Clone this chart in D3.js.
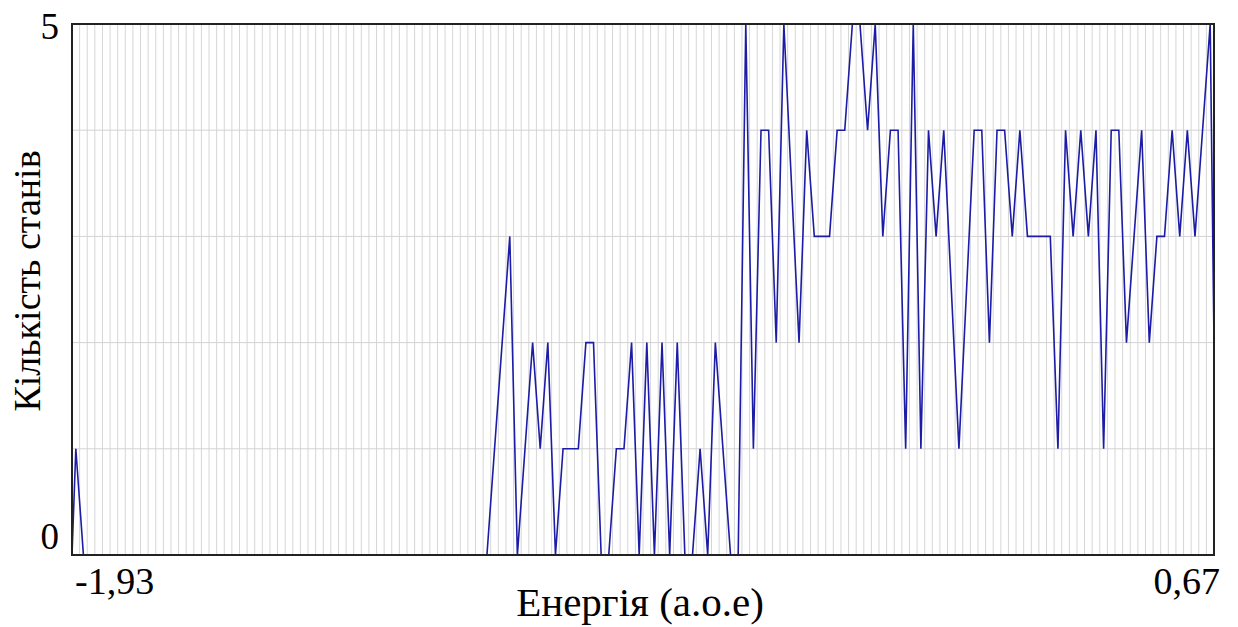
<!DOCTYPE html>
<html>
<head>
<meta charset="utf-8">
<script src="https://cdn.jsdelivr.net/npm/d3@7"></script>
<style>
  body { margin: 0; background: #fff; }
  text { font-family: "Liberation Serif", "Times New Roman", serif; fill: #000; }
</style>
</head>
<body>
<svg id="chart" width="1238" height="627"></svg>
<script>
// vertices of the curve: energy (a.u.) and number of states
var energy = [-1.93, -1.9213, -1.904, -0.9853, -0.9333, -0.916, -0.8813, -0.864, -0.8467, -0.8293,
  -0.812, -0.7773, -0.76, -0.7427, -0.7253, -0.708, -0.6907, -0.6733, -0.656, -0.6387,
  -0.6213, -0.604, -0.5867, -0.5693, -0.552, -0.5347, -0.5173, -0.5, -0.4827, -0.4653,
  -0.4307, -0.4133, -0.396, -0.3787, -0.3613, -0.344, -0.3267, -0.3093, -0.2747, -0.2573,
  -0.24, -0.2053, -0.188, -0.1707, -0.1533, -0.136, -0.1187, -0.1013, -0.084, -0.0667,
  -0.0493, -0.032, -0.0147, 0.0027, 0.02, 0.0373, 0.0547, 0.0893, 0.124, 0.1413,
  0.1587, 0.176, 0.1933, 0.2107, 0.228, 0.2453, 0.2973, 0.3147, 0.332, 0.3493,
  0.3667, 0.384, 0.4013, 0.4187, 0.436, 0.4533, 0.4707, 0.5053, 0.5227, 0.54,
  0.5573, 0.5747, 0.592, 0.6093, 0.6267, 0.6613, 0.67]
var states = [0, 1, 0, 0, 3, 0, 2, 1, 2, 0,
  1, 1, 2, 2, 0, 0, 1, 1, 2, 0,
  2, 0, 2, 0, 2, 0, 0, 1, 0, 2,
  0, 0, 5, 1, 4, 4, 2, 5, 2, 4,
  3, 3, 4, 4, 5, 5, 4, 5, 3, 4,
  4, 1, 5, 1, 4, 3, 4, 1, 4, 4,
  2, 4, 4, 3, 4, 3, 3, 1, 4, 3,
  4, 3, 4, 1, 4, 4, 2, 4, 2, 3,
  3, 4, 3, 4, 3, 5, 2]

var xDomain = [-1.93, 0.67]
var yTicks = [0, 5]
var xTickLabels = ["-1,93", "0,67"]
var binCount = 150   // vertical grid: one line per energy bin

var svg = d3.select("#chart")
var m = {left: 72, right: 1214, top: 24, bottom: 555}

var x = d3.scaleLinear().domain(xDomain).range([m.left, m.right])
var y = d3.scaleLinear().domain([0, 5]).range([m.bottom, m.top])

var grid = svg.append("g")

// vertical bin grid
var step = (xDomain[1] - xDomain[0]) / binCount
grid.selectAll("line.v")
  .data(d3.range(1, binCount))
  .enter()
  .append("line")
  .attr("class", "v")
  .attr("x1", function(d) { return x(xDomain[0] + d * step) })
  .attr("x2", function(d) { return x(xDomain[0] + d * step) })
  .attr("y1", m.top)
  .attr("y2", m.bottom)
  .style("stroke", "#d6d6d6")
  .style("stroke-width", 1)

// horizontal grid at each unit
grid.selectAll("line.h")
  .data(d3.range(1, 5))
  .enter()
  .append("line")
  .attr("class", "h")
  .attr("x1", m.left)
  .attr("x2", m.right)
  .attr("y1", function(d) { return y(d) })
  .attr("y2", function(d) { return y(d) })
  .style("stroke", "#d3d3d3")
  .style("stroke-width", 1)

var line = d3.line()
  .x(function(d) { return x(d[0]) })
  .y(function(d) { return y(d[1]) })

svg.append("path")
  .datum(d3.zip(energy, states))
  .attr("d", line)
  .attr("fill", "none")
  .style("stroke", "#1c1ca6")
  .style("stroke-width", 1.6)

// frame
svg.append("rect")
  .attr("x", m.left)
  .attr("y", m.top)
  .attr("width", m.right - m.left)
  .attr("height", m.bottom - m.top)
  .attr("fill", "none")
  .style("stroke", "#222")
  .style("stroke-width", 2)

// y tick labels
svg.selectAll("text.ytick")
  .data(yTicks)
  .enter()
  .append("text")
  .attr("class", "ytick")
  .attr("x", 59)
  .attr("y", function(d) { return d == 0 ? y(d) - 6 : y(d) + 15 })
  .attr("text-anchor", "end")
  .style("font-size", "37px")
  .text(function(d) { return d })

// x tick labels at the ends of the axis
svg.selectAll("text.xtick")
  .data(xDomain)
  .enter()
  .append("text")
  .attr("class", "xtick")
  .attr("x", function(d, i) { return i == 0 ? x(d) + 3 : x(d) + 6 })
  .attr("y", 594)
  .attr("text-anchor", function(d, i) { return i == 0 ? "start" : "end" })
  .style("font-size", "38px")
  .text(function(d, i) { return xTickLabels[i] })

svg.append("text")
  .attr("x", 640)
  .attr("y", 616)
  .attr("text-anchor", "middle")
  .style("font-size", "41px")
  .text("Енергія (а.о.е)")

svg.append("text")
  .attr("transform", "translate(40,281) rotate(-90)")
  .attr("text-anchor", "middle")
  .style("font-size", "38px")
  .text("Кількість станів")
</script>
</body>
</html>
